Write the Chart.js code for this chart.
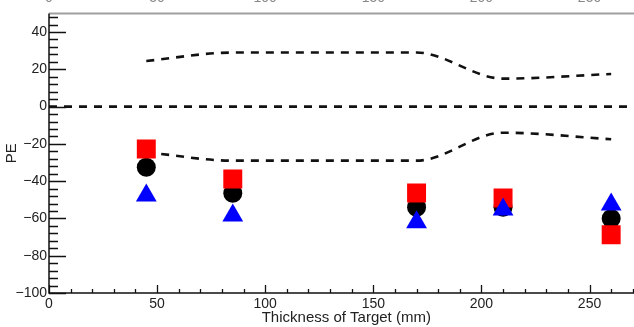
<!DOCTYPE html>
<html>
<head>
<meta charset="utf-8">
<script src="https://cdn.jsdelivr.net/npm/chart.js@4/dist/chart.umd.min.js"></script>
<style>
  html, body { margin: 0; padding: 0; background: #fff; overflow: hidden; }
  canvas { display: block; }
</style>
</head>
<body>
<canvas id="chart" width="657" height="327"></canvas>
<script>
// thickness of target (mm) and PE values
var thickness = [45, 85, 170, 210, 260]
var peCircle = [-32.5, -46.5, -54, -54, -60]
var peSquare = [-22.8, -38.8, -46.3, -49, -68.8]
var peTriangle = [-47.7, -58.4, -62, -55.2, -52.5]
var bandUpper = [24.5, 29, 29, 15, 17.5]
var bandLower = [-24.5, -29, -29, -14, -17.5]
var zeroX = [0, 275]
var zeroY = [0, 0]
var xTicks = [0, 50, 100, 150, 200, 250]
var yTicks = [-100, -80, -60, -40, -20, 0, 20, 40]

function pts(xs, ys) {
  return xs.map((x, i) => ({ x: x, y: ys[i] }))
}

function fmt(v) {
  return v < 0 ? '\u2212' + Math.abs(v) : String(v)
}

const FONT = "'Liberation Sans', Arial, sans-serif"

// ROOT-like frame: inward ticks, grey top border, clipped top labels
const frame = {
  id: 'frame',
  afterDatasetsDraw(chart) {
    const { ctx, chartArea: a, scales: { x, y } } = chart
    ctx.save()
    ctx.strokeStyle = '#a0a0a0'
    ctx.lineWidth = 2
    ctx.beginPath()
    ctx.moveTo(a.left, a.top)
    ctx.lineTo(chart.width, a.top)
    ctx.stroke()

    ctx.strokeStyle = '#111'
    ctx.lineWidth = 1.5
    ctx.beginPath()
    ctx.moveTo(a.left, a.top)
    ctx.lineTo(a.left, a.bottom)
    ctx.lineTo(chart.width, a.bottom)
    ctx.stroke()

    ctx.lineWidth = 1.3
    ctx.beginPath()
    for (let v = -100; v <= 50; v += 4) {
      const py = Math.round(y.getPixelForValue(v)) + 0.5
      const len = (v % 20 === 0) ? 17 : 9
      ctx.moveTo(a.left, py)
      ctx.lineTo(a.left + len, py)
    }
    for (let v = 0; v <= 270; v += 10) {
      const px = Math.round(x.getPixelForValue(v)) + 0.5
      const len = (v % 50 === 0) ? 8 : 4
      ctx.moveTo(px, a.bottom)
      ctx.lineTo(px, a.bottom - len)
    }
    ctx.stroke()

    ctx.fillStyle = '#888'
    ctx.font = '14px ' + FONT
    ctx.textAlign = 'center'
    ctx.textBaseline = 'alphabetic'
    xTicks.forEach(v => {
      ctx.fillText(fmt(v), x.getPixelForValue(v), 2)
    })
    ctx.restore()
  }
}

function dashed(data) {
  return {
    data: data,
    showLine: true,
    pointRadius: 0,
    borderColor: '#111',
    borderWidth: 2.6,
    borderDash: [8, 7],
    cubicInterpolationMode: 'monotone',
    order: 4
  }
}

new Chart(document.getElementById('chart'), {
  type: 'scatter',
  data: {
    datasets: [
      {
        data: pts(thickness, peTriangle),
        pointStyle: 'triangle',
        pointRadius: 12,
        backgroundColor: '#0000ff',
        borderWidth: 0,
        order: 1
      },
      {
        data: pts(thickness, peSquare),
        pointStyle: 'rect',
        pointRadius: 13.4,
        backgroundColor: '#ff0000',
        borderWidth: 0,
        order: 2
      },
      {
        data: pts(thickness, peCircle),
        pointStyle: 'circle',
        pointRadius: 9.5,
        backgroundColor: '#000',
        borderWidth: 0,
        order: 3
      },
      dashed(pts(thickness, bandUpper)),
      dashed(pts(thickness, bandLower)),
      dashed(pts(zeroX, zeroY))
    ]
  },
  options: {
    responsive: false,
    animation: false,
    layout: { padding: { top: 13, left: 0, right: 1, bottom: 0 } },
    plugins: { legend: { display: false }, tooltip: { enabled: false } },
    scales: {
      x: {
        type: 'linear',
        min: 0,
        max: 275,
        grid: { display: false, drawTicks: false },
        border: { display: false },
        afterBuildTicks: s => { s.ticks = xTicks.map(v => ({ value: v })) },
        afterFit: s => { s.height = 34 },
        ticks: {
          padding: 3,
          color: '#222',
          font: { family: FONT, size: 14 },
          maxRotation: 0,
          callback: v => fmt(v)
        },
        title: {
          display: true,
          text: 'Thickness of Target (mm)',
          color: '#222',
          font: { family: FONT, size: 15 },
          padding: { top: 0, bottom: 0 }
        }
      },
      y: {
        min: -100,
        max: 50,
        grid: { display: false, drawTicks: false },
        border: { display: false },
        afterBuildTicks: s => { s.ticks = yTicks.map(v => ({ value: v })) },
        afterFit: s => { s.width = 49 },
        ticks: {
          padding: 2,
          color: '#222',
          font: { family: FONT, size: 14 },
          callback: v => fmt(v)
        },
        title: {
          display: true,
          text: 'PE',
          color: '#222',
          font: { family: FONT, size: 15 },
          padding: { top: 3, bottom: 0 }
        }
      }
    }
  },
  plugins: [frame]
})
</script>
</body>
</html>
